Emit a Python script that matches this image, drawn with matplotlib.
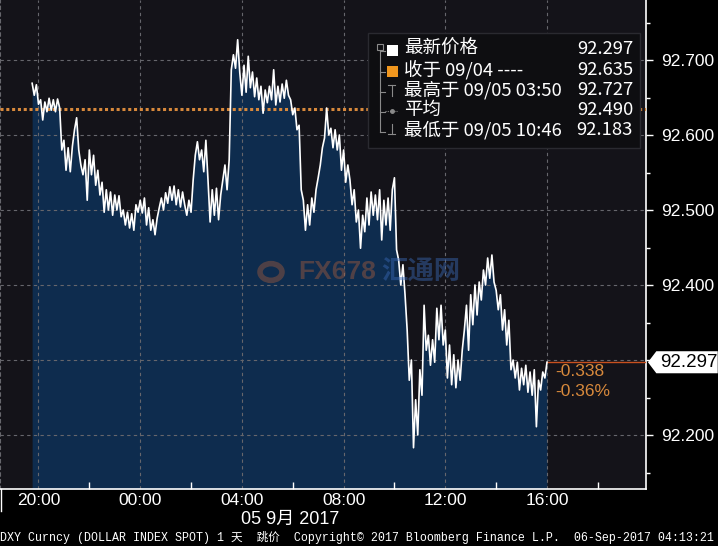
import matplotlib.pyplot as plt
import numpy as np
from matplotlib.patches import Rectangle, Polygon, Circle
from matplotlib.lines import Line2D

# DXY intraday, 5-minute samples from 19:45 (Sep 4) to 16:00 (Sep 5)
# time axis: hours after 20:00
t_start = -0.25
t_step = 5 / 60
prices = [
    92.669, 92.653, 92.667, 92.641, 92.647, 92.620, 92.644, 92.631, 92.649, 92.633,
    92.647, 92.631, 92.648, 92.636, 92.580, 92.593, 92.553, 92.583, 92.551, 92.585,
    92.607, 92.623, 92.580, 92.560, 92.547, 92.567, 92.513, 92.580, 92.547, 92.573,
    92.533, 92.553, 92.520, 92.537, 92.497, 92.527, 92.500, 92.524, 92.493, 92.520,
    92.500, 92.519, 92.491, 92.500, 92.480, 92.497, 92.476, 92.495, 92.473, 92.507,
    92.497, 92.513, 92.496, 92.516, 92.480, 92.503, 92.473, 92.487, 92.467, 92.489,
    92.503, 92.516, 92.500, 92.523, 92.509, 92.531, 92.513, 92.532, 92.507, 92.527,
    92.504, 92.524, 92.507, 92.493, 92.513, 92.497, 92.540, 92.573, 92.591, 92.567,
    92.580, 92.551, 92.593, 92.540, 92.484, 92.527, 92.493, 92.529, 92.487, 92.520,
    92.540, 92.560, 92.527, 92.567, 92.687, 92.707, 92.689, 92.727, 92.683, 92.653,
    92.693, 92.657, 92.705, 92.663, 92.684, 92.651, 92.676, 92.647, 92.665, 92.629,
    92.660, 92.643, 92.665, 92.647, 92.687, 92.640, 92.665, 92.644, 92.668, 92.649,
    92.673, 92.653, 92.647, 92.627, 92.636, 92.607, 92.613, 92.527, 92.513, 92.473,
    92.507, 92.480, 92.516, 92.497, 92.527, 92.543, 92.560, 92.583, 92.596, 92.636,
    92.600, 92.609, 92.583, 92.607, 92.580, 92.600, 92.553, 92.580, 92.537, 92.560,
    92.540, 92.507, 92.527, 92.484, 92.500, 92.449, 92.493, 92.471, 92.516, 92.480,
    92.524, 92.493, 92.520, 92.487, 92.527, 92.460, 92.513, 92.480, 92.516, 92.473,
    92.527, 92.543, 92.447, 92.433, 92.400, 92.427, 92.387, 92.340, 92.273, 92.300,
    92.183, 92.247, 92.200, 92.287, 92.253, 92.373, 92.313, 92.333, 92.293, 92.327,
    92.297, 92.369, 92.327, 92.373, 92.320, 92.340, 92.276, 92.320, 92.267, 92.307,
    92.263, 92.300, 92.273, 92.313, 92.340, 92.373, 92.313, 92.387, 92.347, 92.400,
    92.360, 92.404, 92.380, 92.420, 92.400, 92.436, 92.409, 92.440, 92.404, 92.393,
    92.367, 92.387, 92.340, 92.367, 92.320, 92.353, 92.287, 92.300, 92.276, 92.297,
    92.260, 92.289, 92.267, 92.293, 92.257, 92.284, 92.253, 92.287, 92.211, 92.273,
    92.260, 92.284, 92.276, 92.297,
]
times = t_start + t_step * np.arange(len(prices))

last_price = 92.297
prev_close = 92.635
change = "-0.338"
change_pct = "-0.36%"

x_ticks = [0, 4, 8, 12, 16, 20]
x_labels = ["20:00", "00:00", "04:00", "08:00", "12:00", "16:00"]
y_ticks = [92.2, 92.3, 92.4, 92.5, 92.6, 92.7]
y_labels = ["92.200", "", "92.400", "92.500", "92.600", "92.700"]

legend_rows = [
    ("最新价格", "92.297"),
    ("收于 09/04 ----", "92.635"),
    ("最高于 09/05 03:50", "92.727"),
    ("平均", "92.490"),
    ("最低于 09/05 10:46", "92.183"),
]

W, H = 718, 546
fx = lambda px: px / W
fy = lambda py: 1 - py / H

fig = plt.figure(figsize=(7.18, 5.46), dpi=100, facecolor="black")
ax = fig.add_axes([0, fy(489), fx(646), 489 / H])
ax.set_facecolor("#141319")

xmin, xmax = -1.514, 23.894
ymin, ymax = 92.128, 92.78

fill_c = "#0e2c4e"
ax.fill_between(times, prices, ymin, color=fill_c, lw=0, zorder=1)
ax.plot(times, prices, color="white", lw=1.2, zorder=4)

# grid
for v in y_ticks:
    ax.axhline(v, color="#66666c", lw=0.8, ls=(0, (3, 3)), zorder=2)
for v in x_ticks:
    ax.axvline(v, color="#66666c", lw=0.8, ls=(0, (3, 3)), zorder=2)

# previous close and last price lines
ax.axhline(prev_close, color="#d8893c", lw=2.2, ls=(0, (1, 0.9)), zorder=3)
ax.plot([times[-1], xmax], [last_price, last_price], color="#c8501e", lw=1.0, zorder=3)

# axes styling
ax.spines["top"].set_visible(False)
ax.spines["left"].set_color("#66666c")
ax.spines["left"].set_linestyle((0, (3, 3)))
ax.spines["right"].set_color("white")
ax.spines["bottom"].set_color("white")
ax.spines["right"].set_linewidth(1.2)
ax.spines["bottom"].set_linewidth(1.2)

ax.yaxis.tick_right()
ax.set_yticks(y_ticks)
ax.set_yticklabels(y_labels)
ax.set_yticks([92.15, 92.25, 92.35, 92.45, 92.55, 92.65, 92.75], minor=True)
ax.tick_params(axis="y", which="major", colors="white", length=5, width=1,
               direction="out", pad=6, labelsize=12.5)
ax.tick_params(axis="y", which="minor", colors="white", length=3, width=1, direction="out")
ax.set_xticks(x_ticks)
ax.set_xticklabels(x_labels)
ax.set_xticks([2, 6, 10, 14, 18, 22], minor=True)
ax.tick_params(axis="x", which="major", colors="white", length=0, pad=3, labelsize=12.5)
ax.tick_params(axis="x", which="minor", colors="white", length=5, width=1, direction="in")
for lab in ax.get_xticklabels() + ax.get_yticklabels():
    lab.set_family("Liberation Sans")
ax.set_xlim(xmin, xmax)
ax.set_ylim(ymin, ymax)

# last price tag on the right axis
trans = ax.get_yaxis_transform()
hh = 0.0147
tag = Polygon([(1.003, last_price), (1.016, last_price + hh), (1.111, last_price + hh),
               (1.111, last_price - hh), (1.016, last_price - hh)],
              closed=True, transform=trans, facecolor="white", edgecolor="none",
              clip_on=False, zorder=10)
ax.add_patch(tag)
ax.text(1.022, last_price, f"{last_price:.3f}", transform=trans, color="black",
        fontsize=13.5, family="Liberation Sans", va="center", ha="left", zorder=11,
        clip_on=False)

fig.text(fx(555), fy(372), change, color="#d8893c", fontsize=12.5,
         family="Liberation Sans", va="center")
fig.text(fx(555), fy(392), change_pct, color="#d8893c", fontsize=12.5,
         family="Liberation Sans", va="center")

# watermark
fig.patches.append(Circle((fx(271), fy(272)), 11 / W, transform=fig.transFigure,
                          facecolor="none", edgecolor="#b0603a", lw=4, alpha=0.4))
fig.text(fx(298), fy(272), "FX678", color="#b8623c", alpha=0.4, fontsize=19,
         fontweight="bold", family="Liberation Sans", va="center")
fig.text(fx(381), fy(272), "汇通网", color="#3a6ab8", alpha=0.45, fontsize=19,
         fontweight="bold", family=["Noto Sans CJK SC", "DejaVu Sans"], va="center")

# legend box
fig.patches.append(Rectangle((fx(368), fy(148)), 272 / W, 115 / H, transform=fig.transFigure,
                             facecolor="#0e0e11", edgecolor="#2a2a30", lw=1, zorder=5))
row_y = [49, 70, 90, 110, 130]
cjk = ["Noto Sans CJK SC", "DejaVu Sans"]
for (lab, val), ry in zip(legend_rows, row_y):
    fig.text(fx(404), fy(ry), lab, color="white", fontsize=13.3, family=cjk,
             va="center", ha="left", zorder=6)
    fig.text(fx(633), fy(ry), val, color="white", fontsize=13.3, family=cjk,
             va="center", ha="right", zorder=6)
    fig.lines.append(Line2D([fx(380), fx(385)], [fy(ry + 2), fy(ry + 2)],
                            transform=fig.transFigure, color="#8a8a8a", lw=0.8, zorder=6))
fig.lines.append(Line2D([fx(380), fx(380)], [fy(49), fy(132)], transform=fig.transFigure,
                        color="#8a8a8a", lw=0.8, zorder=6))
fig.patches.append(Rectangle((fx(377), fy(50)), 6 / W, 6 / H, transform=fig.transFigure,
                             facecolor="#0e0e11", edgecolor="#8a8a8a", lw=0.8, zorder=7))
fig.patches.append(Rectangle((fx(387), fy(56)), 11 / W, 11 / H, transform=fig.transFigure,
                             facecolor="white", edgecolor="none", zorder=7))
fig.patches.append(Rectangle((fx(387), fy(77)), 11 / W, 11 / H, transform=fig.transFigure,
                             facecolor="#f0961e", edgecolor="none", zorder=7))
gl = dict(transform=fig.transFigure, color="#8a8a8a", lw=0.8, zorder=7)
fig.lines.append(Line2D([fx(388), fx(395)], [fy(85), fy(85)], **gl))
fig.lines.append(Line2D([fx(391.5), fx(391.5)], [fy(85), fy(96)], **gl))
fig.lines.append(Line2D([fx(385), fx(397)], [fy(111), fy(111)], ls=(0, (1, 1)), **gl))
fig.lines.append(Line2D([fx(391.5)], [fy(111)], marker="o", markersize=2.5, **gl))
fig.lines.append(Line2D([fx(391.5), fx(391.5)], [fy(124), fy(134)], **gl))
fig.lines.append(Line2D([fx(388), fx(395)], [fy(134), fy(134)], **gl))

# date and footer
fig.text(fx(290), fy(519), "05 9月 2017", color="white", fontsize=13,
         family=["Liberation Sans", "Noto Sans CJK SC"], ha="center", va="center")
fig.lines.append(Line2D([fx(1), fx(1)], [fy(489), fy(511)], transform=fig.transFigure,
                        color="white", lw=1))
fig.text(0.0, fy(537),
         "DXY Curncy (DOLLAR INDEX SPOT) 1 天  跳价  Copyright© 2017 Bloomberg Finance L.P.  06-Sep-2017 04:13:21",
         color="white", fontsize=8.4, family=["Liberation Mono", "Noto Sans CJK SC"],
         ha="left", va="center")

fig.savefig("out.png", dpi=100, facecolor="black")
